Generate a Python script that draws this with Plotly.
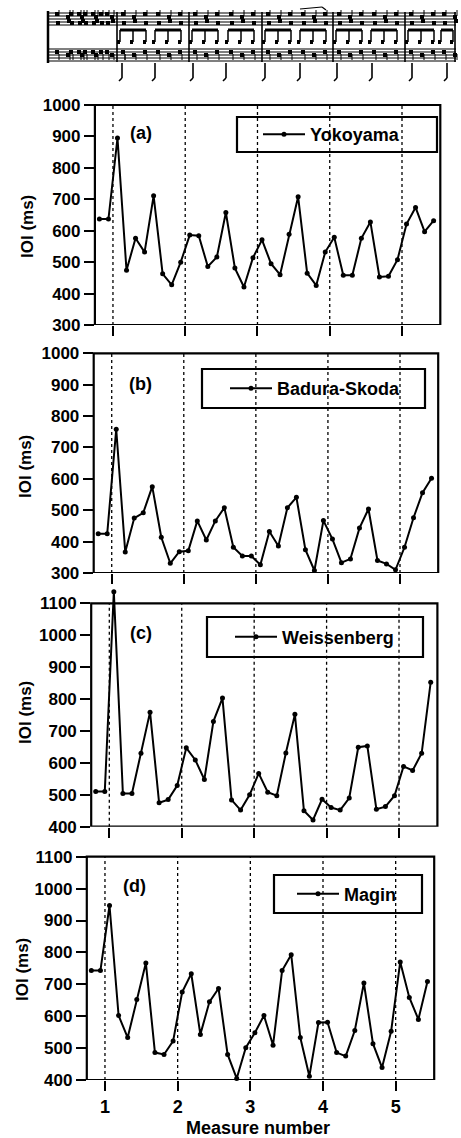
import plotly.graph_objects as go

W, H = 461, 1138
FONT = "Liberation Sans, Arial, Helvetica, sans-serif"

# ---------------- data ----------------
measure_pos = [0.8125, 0.9375, 1.0625, 1.1875, 1.3125, 1.4375, 1.5625, 1.6875,
               1.8125, 1.9375, 2.0625, 2.1875, 2.3125, 2.4375, 2.5625, 2.6875,
               2.8125, 2.9375, 3.0625, 3.1875, 3.3125, 3.4375, 3.5625, 3.6875,
               3.8125, 3.9375, 4.0625, 4.1875, 4.3125, 4.4375, 4.5625, 4.6875,
               4.8125, 4.9375, 5.0625, 5.1875, 5.3125, 5.4375]

yokoyama = [637, 637, 895, 474, 576, 532, 711, 463,
            428, 500, 586, 584, 486, 516, 658, 481,
            421, 514, 571, 495, 460, 589, 708, 465,
            426, 532, 579, 458, 458, 576, 628, 453,
            455, 508, 621, 674, 597, 632]

badura_skoda = [425, 425, 758, 367, 475, 492, 575, 414,
                331, 368, 371, 466, 405, 466, 508, 382,
                354, 354, 326, 432, 386, 508, 541, 374,
                308, 467, 408, 333, 345, 443, 504, 340,
                329, 310, 382, 476, 556, 602]

weissenberg = [510, 510, 1136, 504, 504, 630, 759, 475,
               485, 529, 647, 609, 548, 730, 803, 484,
               452, 500, 567, 508, 497, 631, 752, 450,
               421, 486, 460, 452, 490, 649, 653, 455,
               463, 497, 589, 576, 630, 853]

magin = [743, 743, 947, 602, 533, 652, 767, 486,
         480, 522, 676, 733, 543, 645, 687, 480,
         405, 501, 548, 602, 509, 743, 793, 533,
         412, 580, 581, 486, 475, 555, 704, 514,
         439, 553, 770, 659, 590, 709]

performers = ["Yokoyama", "Badura-Skoda", "Weissenberg", "Magin"]
series = [yokoyama, badura_skoda, weissenberg, magin]
panel_labels = ["(a)", "(b)", "(c)", "(d)"]
y_ranges = [[300, 1000], [300, 1000], [400, 1100], [400, 1100]]
y_ticks = [[300, 400, 500, 600, 700, 800, 900, 1000],
           [300, 400, 500, 600, 700, 800, 900, 1000],
           [400, 500, 600, 700, 800, 900, 1000, 1100],
           [400, 500, 600, 700, 800, 900, 1000, 1100]]
x_ticks = [1, 2, 3, 4, 5]
x_ticklabels = ["1", "2", "3", "4", "5"]
measure_lines = [1, 2, 3, 4, 5]
x_range = [0.75, 5.53]
y_title = "IOI (ms)"
x_title = "Measure number"

# ---------------- layout (pixels) ----------------
panels = [
    dict(x0=94.9, x1=440.3, top=105.0, bot=325.0,
         leg=(237, 117, 437, 152, 263), lab=(141, 133), yt=(27, 227)),
    dict(x0=93.7, x1=438.2, top=353.3, bot=573.0,
         leg=(202, 369, 425, 408, 230), lab=(140, 384), yt=(25, 467)),
    dict(x0=91.2, x1=437.4, top=603.3, bot=826.7,
         leg=(207, 617, 423, 657, 235), lab=(141, 633), yt=(25, 713)),
    dict(x0=86.8, x1=434.2, top=856.7, bot=1080.0,
         leg=(274, 875, 422, 913, 297), lab=(134, 886), yt=(22, 970)),
]
EXT = 16  # extra pixels above frame so peaks may rise above it


def px(x):
    return x / W


def py(y):
    return 1 - y / H


fig = go.Figure()
shapes = []
annotations = []
layout = dict(
    width=W, height=H,
    margin=dict(l=0, r=0, t=0, b=0),
    paper_bgcolor="white", plot_bgcolor="white",
    showlegend=True,
    font=dict(family=FONT, color="black", size=17, weight="bold"),
)

for i, p in enumerate(panels):
    n = i + 1
    xa = "xaxis" if n == 1 else f"xaxis{n}"
    ya = "yaxis" if n == 1 else f"yaxis{n}"
    xr = "x" if n == 1 else f"x{n}"
    yr = "y" if n == 1 else f"y{n}"
    lg = "legend" if n == 1 else f"legend{n}"
    lo, hi = y_ranges[i]
    span_px = p["bot"] - p["top"]
    hi_ext = hi + EXT * (hi - lo) / span_px

    fig.add_trace(go.Scatter(
        x=measure_pos, y=series[i], mode="lines+markers",
        name=performers[i], xaxis=xr, yaxis=yr, legend=lg,
        line=dict(color="black", width=2),
        marker=dict(color="black", size=5),
        cliponaxis=False, hoverinfo="x+y",
    ))

    layout[xa] = dict(
        domain=[px(p["x0"]), px(p["x1"])], range=x_range, anchor=yr,
        showline=False, showgrid=False, zeroline=False,
        ticks="outside", ticklen=10, tickwidth=1.5, tickcolor="black",
        tickvals=x_ticks, ticktext=x_ticklabels,
        showticklabels=(n == 4),
        tickfont=dict(size=18, family=FONT, weight="bold"),
        automargin=False,
    )
    layout[ya] = dict(
        domain=[py(p["bot"]), py(p["top"] - EXT)], range=[lo, hi_ext],
        anchor=xr, showline=False, showgrid=False, zeroline=False,
        ticks="outside", ticklen=10, tickwidth=1.5, tickcolor="black",
        tickvals=y_ticks[i],
        tickfont=dict(size=17, family=FONT, weight="bold"),
        automargin=False,
    )

    # frame
    shapes.append(dict(type="rect", xref=f"{xr} domain", yref=yr,
                       x0=0, x1=1, y0=lo, y1=hi,
                       line=dict(color="black", width=2.2), layer="above"))
    # dotted measure lines
    for m in measure_lines:
        shapes.append(dict(type="line", xref=xr, yref=yr, x0=m, x1=m,
                           y0=lo, y1=hi,
                           line=dict(color="black", width=1.3, dash="dot"),
                           layer="below"))
    # legend box
    bx0, by0, bx1, by1, lstart = p["leg"]
    shapes.append(dict(type="rect", xref="paper", yref="paper",
                       x0=px(bx0), x1=px(bx1), y0=py(by1), y1=py(by0),
                       line=dict(color="black", width=2.2),
                       fillcolor="white", layer="below"))
    layout[lg] = dict(
        x=px(lstart - 5), y=py((by0 + by1) / 2), xanchor="left",
        yanchor="middle", bgcolor="rgba(0,0,0,0)", borderwidth=0,
        font=dict(size=18, family=FONT, weight="bold"), itemwidth=42,
    )
    # panel label
    annotations.append(dict(text=panel_labels[i], x=px(p["lab"][0]),
                            y=py(p["lab"][1]), xref="paper", yref="paper",
                            showarrow=False,
                            font=dict(size=18, family=FONT, weight="bold"),
                            xanchor="center", yanchor="middle"))
    # y title
    annotations.append(dict(text=y_title, x=px(p["yt"][0]), y=py(p["yt"][1]),
                            xref="paper", yref="paper", showarrow=False,
                            textangle=-90,
                            font=dict(size=17, family=FONT, weight="bold"),
                            xanchor="center", yanchor="middle"))

annotations.append(dict(text=x_title, x=px(258), y=py(1128), xref="paper",
                        yref="paper", showarrow=False,
                        font=dict(size=18, family=FONT, weight="bold"),
                        xanchor="center", yanchor="middle"))


# ---------------- decorative music strip ----------------
def seg(x0, y0, x1, y1, w=1.0):
    shapes.append(dict(type="line", xref="paper", yref="paper",
                       x0=px(x0), x1=px(x1), y0=py(y0), y1=py(y1),
                       line=dict(color="black", width=w)))


def blob(x0, y0, x1, y1):
    shapes.append(dict(type="rect", xref="paper", yref="paper",
                       x0=px(x0), x1=px(x1), y0=py(y1), y1=py(y0),
                       line=dict(width=0), fillcolor="black"))


staff_left, staff_right = 48, 456
for yy in [13, 16, 19, 22, 25]:
    seg(staff_left, yy, staff_right, yy, 1.1)
for yy in [49, 52, 55, 58, 61]:
    seg(staff_left, yy, staff_right, yy, 1.1)
seg(48, 11, 48, 63, 2.5)
for bx in [117, 189, 262, 333, 405, 455]:
    seg(bx, 12, bx, 62, 1.6)
# beamed groups between the staves
group_starts = [118, 153, 190, 226, 263, 298, 334, 369, 406, 439]
for gs in group_starts:
    width = 26 if gs != 439 else 12
    seg(gs + 2, 30, gs + 2 + width, 30, 3)
    stems = [gs + 2, gs + 2 + width / 2, gs + 2 + width] if gs != 439 else [gs + 2, gs + 2 + width]
    for sx in stems:
        seg(sx, 30, sx, 42, 1.5)
        blob(sx - 3, 40, sx, 44)
# notes on staves (texture)
for gs in [52, 66, 80, 96] + group_starts:
    for k in range(3):
        nx = gs + 3 + k * 11
        if nx < 454:
            blob(nx, 12 + (k % 2) * 3, nx + 4, 16 + (k % 2) * 3)
            blob(nx + 1, 19 + ((k + 1) % 2) * 2, nx + 5, 23 + ((k + 1) % 2) * 2)
            blob(nx, 50 + (k % 2) * 3, nx + 4, 54 + (k % 2) * 3)
            seg(nx + 4, 10, nx + 4, 16, 1)
            seg(nx + 4, 54, nx + 4, 60, 1)
# lower stems with hooks
for sx in [122, 155, 193, 226, 265, 300, 337, 372, 412, 447]:
    seg(sx, 63, sx, 78, 1.6)
    seg(sx, 78, sx - 3, 81, 1.6)
# tie
seg(300, 9, 322, 7, 1.2)
seg(322, 7, 326, 10, 1.2)

layout["shapes"] = shapes
layout["annotations"] = annotations
fig.update_layout(**layout)

fig.write_html("out.html", post_script="document.body.style.margin='0';",
               config={"displayModeBar": False})
